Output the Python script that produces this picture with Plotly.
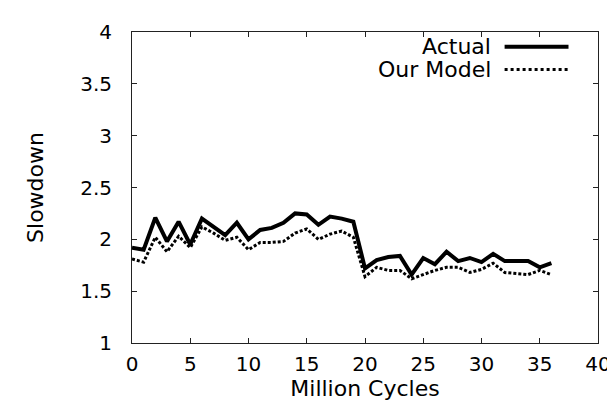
import plotly.graph_objects as go

cycles = list(range(0, 37))
actual = [1.92, 1.90, 2.21, 1.98, 2.17, 1.95, 2.20, 2.12, 2.04, 2.16, 2.00, 2.09, 2.11, 2.16, 2.25, 2.24, 2.14, 2.22, 2.20, 2.17,
          1.72, 1.80, 1.83, 1.84, 1.66, 1.82, 1.76, 1.88, 1.79, 1.82, 1.78, 1.86, 1.79, 1.79, 1.79, 1.73, 1.77]
model = [1.81, 1.78, 2.02, 1.88, 2.03, 1.92, 2.12, 2.06, 1.99, 2.02, 1.90, 1.97, 1.97, 1.98, 2.06, 2.10, 2.00, 2.05, 2.08, 2.02,
         1.64, 1.73, 1.70, 1.70, 1.62, 1.66, 1.70, 1.73, 1.73, 1.68, 1.71, 1.77, 1.68, 1.67, 1.66, 1.70, 1.66]
series_names = ["Actual", "Our Model"]
x_ticks = [0, 5, 10, 15, 20, 25, 30, 35, 40]
y_ticks = [1, 1.5, 2, 2.5, 3, 3.5, 4]

FONT = "DejaVu Sans, Verdana, sans-serif"
FS = 20
FT = 22
L, R, T, B = 124, 17, 19, 67
W, H = 615, 402
pw, ph = W - L - R, H - T - B

def px(x):
    return (x - L) / pw

def py(y):
    return (H - B - y) / ph

fig = go.Figure()
fig.add_trace(go.Scatter(x=cycles, y=actual, mode="lines", name=series_names[0],
                         line=dict(color="black", width=4), showlegend=False))
fig.add_trace(go.Scatter(x=cycles, y=model, mode="lines", name=series_names[1],
                         line=dict(color="black", width=3, dash="3px,2px"), showlegend=False))

# gnuplot-style legend: text then sample line
legend_rows = [(series_names[0], 34, dict(color="black", width=4)),
               (series_names[1], 57, dict(color="black", width=3, dash="dot"))]
for name, yy, ln in legend_rows:
    fig.add_annotation(x=px(491), y=py(yy), xref="paper", yref="paper", text=name,
                       showarrow=False, xanchor="right", yanchor="middle",
                       font=dict(family=FONT, size=FT, color="black"))
    fig.add_shape(type="line", xref="paper", yref="paper", x0=px(503), x1=px(568),
                  y0=py(yy), y1=py(yy), line=ln)

axis_common = dict(showline=True, mirror="allticks", linecolor="#222222", linewidth=1,
                   ticks="inside", ticklen=5, tickcolor="#222222", showgrid=False,
                   zeroline=False, tickfont=dict(family=FONT, size=FS, color="black"))
fig.update_xaxes(range=[0, 40], tickvals=x_ticks, ticktext=[str(v) for v in x_ticks],
                 ticklabelstandoff=3,
                 title=dict(text="Million Cycles", font=dict(family=FONT, size=FT, color="black"), standoff=0),
                 **axis_common)
fig.update_yaxes(range=[1, 4], tickvals=y_ticks, ticktext=["1", "1.5", "2", "2.5", "3", "3.5", "4"],
                 ticklabelstandoff=15,
                 title=dict(text="Slowdown", font=dict(family=FONT, size=FT, color="black"), standoff=30),
                 **axis_common)
fig.update_layout(width=W, height=H, margin=dict(l=L, r=R, t=T, b=B),
                  plot_bgcolor="white", paper_bgcolor="white",
                  font=dict(family=FONT, size=FS, color="black"))
fig.write_html("out.html")
